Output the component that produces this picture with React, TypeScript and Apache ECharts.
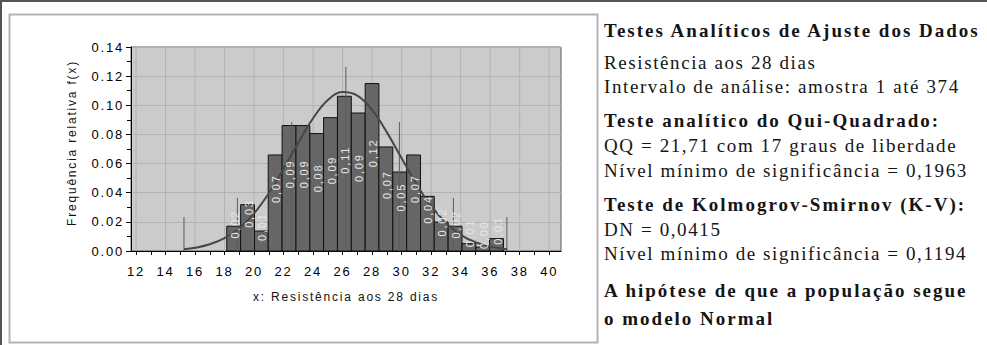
import React, { useEffect, useRef } from "react";
import * as echarts from "echarts";

// ---- data ----
const binEdges = [18.15, 19.09, 20.03, 20.96, 21.9, 22.84, 23.78, 24.71, 25.65, 26.59, 27.53, 28.46, 29.4, 30.34, 31.28, 32.21, 33.15, 34.09, 35.03, 35.96, 36.9];
const relFreq = [0.017, 0.0318, 0.0137, 0.0659, 0.0861, 0.0861, 0.0806, 0.0915, 0.1062, 0.0947, 0.1149, 0.0714, 0.0542, 0.0659, 0.0375, 0.0199, 0.017, 0.0051, 0.0027, 0.0085];
const barLabels = ["0,02", "0,03", "0,01", "0,07", "0,09", "0,09", "0,08", "0,09", "0,11", "0,09", "0,12", "0,07", "0,05", "0,07", "0,04", "0,02", "0,02", "0,01", "0,00", "0,01"];

const curveX = [15.25, 16, 17, 18, 19, 20, 21, 22, 23, 24, 25, 26, 27, 28, 29, 30, 31, 32, 33, 34, 35, 36, 37, 37.15];
const curveY = [0.0012, 0.0022, 0.0046, 0.0088, 0.0156, 0.0258, 0.0396, 0.0564, 0.0744, 0.0911, 0.1036, 0.1091, 0.1067, 0.0968, 0.0814, 0.0636, 0.046, 0.0309, 0.0193, 0.0111, 0.006, 0.003, 0.0014, 0.0012];

const markX = [15.25, 18.87, 22.55, 26.22, 29.85, 33.51, 37.13];
const markH = [0.0233, 0.0364, 0.0885, 0.1263, 0.0885, 0.0364, 0.0233];

const xTickLabels = [12, 14, 16, 18, 20, 22, 24, 26, 28, 30, 32, 34, 36, 38, 40];
const xMinorTicks = [12, 13, 14, 15, 16, 17, 18, 19, 20, 21, 22, 23, 24, 25, 26, 27, 28, 29, 30, 31, 32, 33, 34, 35, 36, 37, 38, 39, 40];

const xAxisName = "x: Resistência aos 28 dias";
const yAxisName = "Frequência relativa f(x)";

const panelTexts = [
  "Testes Analíticos de Ajuste dos Dados",
  "Resistência aos 28 dias",
  "Intervalo de análise: amostra 1 até 374",
  "Teste analítico do Qui-Quadrado:",
  "QQ = 21,71 com 17 graus de liberdade",
  "Nível mínimo de significância = 0,1963",
  "Teste de Kolmogrov-Smirnov (K-V):",
  "DN = 0,0415",
  "Nível mínimo de significância = 0,1194",
  "A hipótese de que a população segue",
  "o modelo Normal",
];
const panelBold = [true, false, false, true, false, false, true, false, false, true, true];

// ---- layout ----
const panelLineY = [30, 62, 86, 120, 145, 170, 204, 229, 253, 290, 318];

const css = `
#chart text[style*="Liberation Sans"] { letter-spacing: 1.8px; }
#chart text[style*="Liberation Serif"] { letter-spacing: 1.6px; }
#chart text[style*="Liberation Serif"][style*="bold"] { letter-spacing: 2px; }
`;

function buildOption(): any {
  const bars = relFreq.map((v, i) => [binEdges[i], binEdges[i + 1], v]);
  const graphics: any[] = [
    { type: "line", shape: { x1: 0, y1: 1, x2: 987, y2: 1 }, style: { stroke: "#555", lineWidth: 2 } },
    { type: "line", shape: { x1: 1, y1: 0, x2: 1, y2: 345 }, style: { stroke: "#555", lineWidth: 2 } },
    { type: "rect", shape: { x: 9.5, y: 14.5, width: 588, height: 328 }, style: { fill: "none", stroke: "#b4b4b4", lineWidth: 2 } },
  ];
  panelTexts.forEach((t, i) => {
    graphics.push({
      type: "text",
      x: 604,
      y: panelLineY[i],
      style: {
        text: t,
        fill: "#151515",
        fontFamily: "Liberation Serif",
        fontSize: 19,
        fontWeight: panelBold[i] ? "bold" : "normal",
        align: "left",
        verticalAlign: "middle",
      },
    });
  });

  return {
    animation: false,
    backgroundColor: "#ffffff",
    graphic: { elements: graphics },
    grid: {
      left: 131,
      top: 47,
      right: 426,
      bottom: 94,
      show: true,
      backgroundColor: "#cbcbcb",
      borderColor: "#5a5a5a",
      borderWidth: 1,
    },
    xAxis: {
      type: "value",
      min: 11.66,
      max: 40.8,
      name: xAxisName,
      nameLocation: "middle",
      nameGap: 40,
      nameTextStyle: { fontFamily: "Liberation Sans", fontSize: 12, color: "#111" },
      axisLine: { show: true, onZero: false, lineStyle: { color: "#000", width: 1 } },
      axisTick: { show: true, customValues: xMinorTicks, length: 4, lineStyle: { color: "#000" } },
      axisLabel: {
        customValues: xTickLabels,
        margin: 14,
        fontFamily: "Liberation Sans",
        fontSize: 13,
        color: "#000",
      },
      splitLine: { show: false },
    },
    yAxis: {
      type: "value",
      min: 0,
      max: 0.14,
      interval: 0.02,
      name: yAxisName,
      nameLocation: "middle",
      nameGap: 53,
      nameTextStyle: { fontFamily: "Liberation Sans", fontSize: 12, color: "#111", padding: [0, 0, 0, 12] },
      axisLine: { show: true, lineStyle: { color: "#000", width: 1 } },
      axisTick: { show: true, length: 5, lineStyle: { color: "#000" } },
      minorTick: { show: true, splitNumber: 2, length: 4, lineStyle: { color: "#000" } },
      axisLabel: {
        margin: 7,
        fontFamily: "Liberation Sans",
        fontSize: 13,
        color: "#000",
        formatter: (v: number) => v.toFixed(2),
      },
      splitLine: { show: true, lineStyle: { color: "#b2b2b2", width: 1 } },
    },
    series: [
      {
        type: "custom",
        name: "grid-x",
        z: 1,
        silent: true,
        data: xTickLabels.map((v) => [v, 0]),
        encode: { x: 0, y: 1 },
        renderItem: (params: any, api: any) => {
          const v = api.value(0);
          const p0 = api.coord([v, 0]);
          const p1 = api.coord([v, 0.14]);
          return {
            type: "line",
            shape: { x1: p0[0], y1: p0[1], x2: p1[0], y2: p1[1] },
            style: { stroke: "#b2b2b2", lineWidth: 1 },
          };
        },
      },
      {
        type: "custom",
        name: "histograma",
        z: 2,
        data: bars,
        encode: { x: [0, 1], y: 2 },
        renderItem: (params: any, api: any) => {
          const x0 = api.value(0);
          const x1 = api.value(1);
          const v = api.value(2);
          const p0 = api.coord([x0, v]);
          const p1 = api.coord([x1, 0]);
          return {
            type: "rect",
            shape: { x: p0[0], y: p0[1], width: p1[0] - p0[0], height: p1[1] - p0[1] },
            style: { fill: "#666666", stroke: "#111", lineWidth: 1 },
          };
        },
      },
      {
        type: "custom",
        name: "marcas",
        z: 3,
        silent: true,
        data: markX.map((x, i) => [x, markH[i]]),
        encode: { x: 0, y: 1 },
        renderItem: (params: any, api: any) => {
          const x = api.value(0);
          const h = api.value(1);
          const p0 = api.coord([x, 0]);
          const p1 = api.coord([x, h]);
          return {
            type: "line",
            shape: { x1: p0[0], y1: p0[1], x2: p1[0], y2: p1[1] },
            style: { stroke: "#5c5c5c", lineWidth: 1 },
          };
        },
      },
      {
        type: "line",
        name: "Normal",
        z: 4,
        smooth: 0.4,
        symbol: "none",
        data: curveX.map((x, i) => [x, curveY[i]]),
        lineStyle: { color: "#474747", width: 2 },
      },
      {
        type: "custom",
        name: "rotulos",
        z: 5,
        silent: true,
        data: bars,
        encode: { x: [0, 1], y: 2 },
        renderItem: (params: any, api: any) => {
          const x0 = api.value(0);
          const x1 = api.value(1);
          const v = api.value(2);
          const p0 = api.coord([x0, v]);
          const p1 = api.coord([x1, 0]);
          return {
            type: "text",
            x: (p0[0] + p1[0]) / 2 + 1,
            y: (p0[1] + p1[1]) / 2,
            rotation: Math.PI / 2,
            style: {
              text: barLabels[params.dataIndex],
              fill: "#e6e6e6",
              fontFamily: "Liberation Sans",
              fontSize: 11,
              align: "left",
              verticalAlign: "middle",
            },
          };
        },
      },
    ],
  };
}

export default function App() {
  const ref = useRef<HTMLDivElement>(null);
  useEffect(() => {
    if (!ref.current) return;
    const chart = echarts.init(ref.current, null, { renderer: "svg" });
    chart.setOption(buildOption());
    return () => {
      chart.dispose();
    };
  }, []);
  return (
    <>
      <style>{css}</style>
      <div
        id="chart"
        ref={ref}
        style={{ position: "fixed", left: 0, top: 0, width: 987, height: 345, background: "#fff" }}
      />
    </>
  );
}
